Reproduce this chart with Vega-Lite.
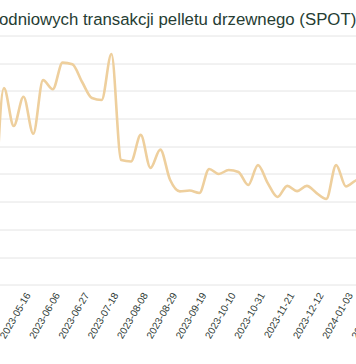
{
  "$schema": "https://vega.github.io/schema/vega-lite/v6.json",
  "autosize": "none",
  "width": 356,
  "height": 249.2,
  "padding": {"left": 0, "top": 35.5, "right": 0, "bottom": 79.3},
  "background": "white",
  "title": {
    "text": "odniowych transakcji pelletu drzewnego (SPOT)",
    "anchor": "start",
    "frame": "group",
    "font": "Liberation Sans",
    "fontSize": 16.8,
    "fontWeight": "normal",
    "color": "#263d33",
    "baseline": "alphabetic",
    "offset": 12.5,
    "dx": -1,
    "dy": 18.5
  },
  "config": {"view": {"stroke": null}},
  "data": {
    "values": [
      {"date": "2023-04-25", "price": 161},
      {"date": "2023-05-02", "price": 710},
      {"date": "2023-05-09", "price": 573},
      {"date": "2023-05-16", "price": 679},
      {"date": "2023-05-23", "price": 545},
      {"date": "2023-05-30", "price": 739},
      {"date": "2023-06-06", "price": 706},
      {"date": "2023-06-13", "price": 802},
      {"date": "2023-06-20", "price": 796},
      {"date": "2023-06-27", "price": 732},
      {"date": "2023-07-04", "price": 674},
      {"date": "2023-07-11", "price": 667},
      {"date": "2023-07-18", "price": 833},
      {"date": "2023-07-25", "price": 450},
      {"date": "2023-08-01", "price": 445},
      {"date": "2023-08-08", "price": 541},
      {"date": "2023-08-15", "price": 422},
      {"date": "2023-08-22", "price": 488},
      {"date": "2023-08-29", "price": 379},
      {"date": "2023-09-05", "price": 337},
      {"date": "2023-09-12", "price": 340},
      {"date": "2023-09-19", "price": 331},
      {"date": "2023-09-26", "price": 418},
      {"date": "2023-10-03", "price": 400},
      {"date": "2023-10-10", "price": 414},
      {"date": "2023-10-17", "price": 407},
      {"date": "2023-10-24", "price": 360},
      {"date": "2023-10-31", "price": 432},
      {"date": "2023-11-07", "price": 367},
      {"date": "2023-11-14", "price": 317},
      {"date": "2023-11-21", "price": 357},
      {"date": "2023-11-28", "price": 338},
      {"date": "2023-12-05", "price": 357},
      {"date": "2023-12-12", "price": 331},
      {"date": "2023-12-19", "price": 310},
      {"date": "2023-12-27", "price": 432},
      {"date": "2024-01-03", "price": 355},
      {"date": "2024-01-10", "price": 376},
      {"date": "2024-01-17", "price": 385},
      {"date": "2024-01-24", "price": 390}
    ]
  },
  "mark": {"type": "line", "interpolate": "monotone", "color": "#eecf9d", "strokeWidth": 2.6, "clip": false},
  "encoding": {
    "x": {
      "field": "date",
      "type": "ordinal",
      "scale": {"type": "point", "range": [-5.8, 375.2], "padding": 0},
      "axis": {
        "title": null,
        "values": ["2023-05-16", "2023-06-06", "2023-06-27", "2023-07-18", "2023-08-08", "2023-08-29", "2023-09-19", "2023-10-10", "2023-10-31", "2023-11-21", "2023-12-12", "2024-01-03", "2024-01-24"],
        "labelAngle": -60,
        "labelAlign": "right",
        "labelBaseline": "top",
        "labelFont": "Liberation Sans",
        "labelFontSize": 10,
        "labelColor": "#2f3b36",
        "labelPadding": 6,
        "labelOverlap": false,
        "labelBound": false,
        "ticks": false,
        "domain": false,
        "grid": false
      }
    },
    "y": {
      "field": "price",
      "type": "quantitative",
      "scale": {"domain": [0, 900], "nice": false, "zero": true},
      "axis": {
        "title": null,
        "values": [0, 100, 200, 300, 400, 500, 600, 700, 800, 900],
        "labels": false,
        "ticks": false,
        "domain": false,
        "grid": true,
        "gridColor": "#e4e4e4",
        "gridWidth": 1
      }
    }
  }
}
